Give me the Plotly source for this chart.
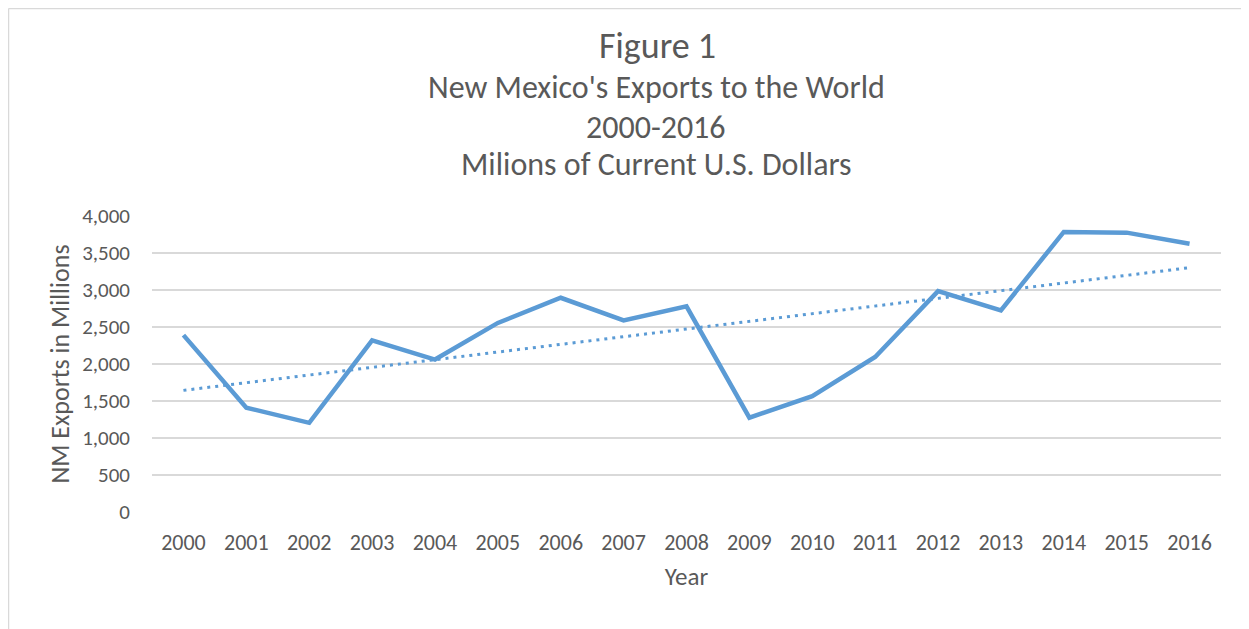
import numpy as np
import plotly.graph_objects as go

years = [str(y) for y in range(2000, 2017)]
exports = [2390, 1410, 1205, 2320, 2060, 2555, 2895, 2590, 2780, 1275, 1565, 2095, 2985, 2725, 3785, 3775, 3625]

title_main = "Figure 1"
subtitle_lines = ["New Mexico's Exports to the World", "2000-2016", "Milions of Current U.S. Dollars"]
y_title = "NM Exports in Millions"
x_title = "Year"
y_ticks = [0, 500, 1000, 1500, 2000, 2500, 3000, 3500, 4000]

# linear trendline (least squares, like Excel)
idx = np.arange(len(exports))
slope, intercept = np.polyfit(idx, exports, 1)
trend = slope * idx + intercept

FONT = "Carlito, Lato, sans-serif"
GRAY = "#595959"
BLUE = "#5b9bd5"

OFF = 8  # page body margin
W, H = 1249 - OFF, 629 - OFF
L, R, T, B = 152 - OFF, 28, 216 - OFF, 117
pw, ph = 1069, 296


def px(x):
    return (x - 152) / pw


def py(y):
    return (512 - y) / ph


fig = go.Figure()
fig.add_trace(go.Scatter(x=years, y=exports, mode="lines",
                         line=dict(color=BLUE, width=4.5), showlegend=False))
fig.add_trace(go.Scatter(x=years, y=trend, mode="lines",
                         line=dict(color=BLUE, width=3, dash="3px,5px"), showlegend=False))

annotations = [
    dict(text=title_main, x=px(657), y=py(46), size=36),
    dict(text=subtitle_lines[0], x=px(656), y=py(87), size=32),
    dict(text=subtitle_lines[1], x=px(656), y=py(127), size=32),
    dict(text=subtitle_lines[2], x=px(656), y=py(165), size=32),
]
anns = []
for a in annotations:
    anns.append(dict(text=a["text"], x=a["x"], y=a["y"], xref="paper", yref="paper",
                     showarrow=False, xanchor="center", yanchor="middle",
                     font=dict(family=FONT, size=a["size"], color=GRAY)))

fig.update_layout(
    width=W, height=H,
    margin=dict(l=L, r=R, t=T, b=B),
    paper_bgcolor="white", plot_bgcolor="white",
    font=dict(family=FONT, color=GRAY, size=21),
    annotations=anns,
    xaxis=dict(type="category", range=[-0.5, 16.5], showgrid=False, zeroline=False,
               showline=False, ticks="", tickfont=dict(size=22, color=GRAY),
               ticklabelstandoff=15,
               title=dict(text=x_title, font=dict(size=25, color=GRAY), standoff=12)),
    yaxis=dict(range=[0, 4000], tickvals=y_ticks, tickformat=",d",
               showgrid=True, gridcolor="#d9d9d9", gridwidth=1.5, zeroline=False,
               showline=False, ticks="", tickfont=dict(size=21, color=GRAY),
               ticklabelstandoff=21,
               title=dict(text=y_title, font=dict(size=26, color=GRAY), standoff=5)),
    shapes=[
        dict(type="line", xref="paper", yref="paper",
             x0=px(OFF + 0.5), x1=px(OFF + 0.5), y0=py(OFF + H), y1=py(OFF + 0.5),
             line=dict(color="#d9d9d9", width=1.5)),
        dict(type="line", xref="paper", yref="paper",
             x0=px(OFF + 0.5), x1=px(OFF + W), y0=py(OFF + 0.5), y1=py(OFF + 0.5),
             line=dict(color="#d9d9d9", width=1.5)),
    ],
)

fig.write_html("out.html")
